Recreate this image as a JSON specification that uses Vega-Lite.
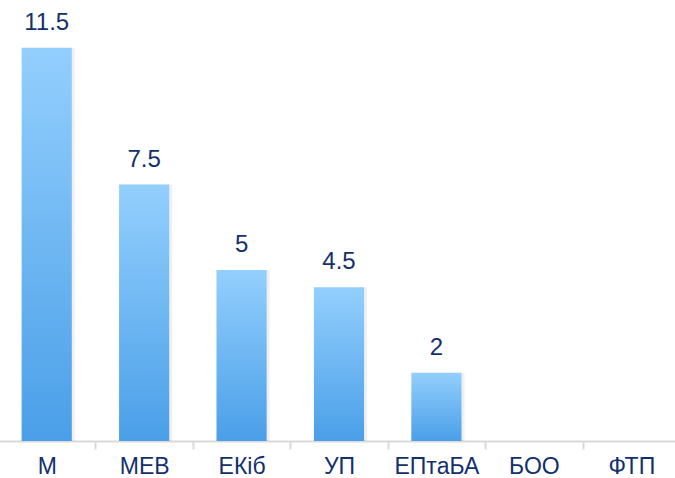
{
  "$schema": "https://vega.github.io/schema/vega-lite/v6.json",
  "width": 682,
  "height": 441,
  "autosize": {"type": "none"},
  "padding": {"left": -2, "top": 0, "right": 0, "bottom": 37},
  "background": "white",
  "config": {"view": {"stroke": null}, "font": "Liberation Sans"},
  "data": {"values": [
    {"cat": "М", "value": 11.5},
    {"cat": "МЕВ", "value": 7.5},
    {"cat": "ЕКіб", "value": 5},
    {"cat": "УП", "value": 4.5},
    {"cat": "ЕПтаБА", "value": 2},
    {"cat": "БОО", "value": 0},
    {"cat": "ФТП", "value": 0}
  ]},
  "encoding": {
    "x": {"field": "cat", "type": "nominal", "sort": null,
      "scale": {"paddingInner": 0, "paddingOuter": 0},
      "axis": {"title": null, "labelAngle": 0, "labelFontSize": 23, "labelColor": "#13306B",
        "labelPadding": 6, "domainColor": "#D9D9D9", "domainWidth": 2, "tickColor": "#D9D9D9",
        "tickWidth": 2, "tickSize": 8, "tickBand": "extent"}},
    "y": {"field": "value", "type": "quantitative", "scale": {"domain": [0, 12.9]}, "axis": null}
  },
  "layer": [
    {"mark": {"type": "bar", "color": "#000000", "opacity": 0.06, "xOffset": 3, "width": {"band": 0.515}, "clip": false}},
    {"mark": {"type": "bar", "width": {"band": 0.515}, "color": {"gradient": "linear", "x1": 0, "y1": 0, "x2": 0, "y2": 1,
      "stops": [{"offset": 0, "color": "#93CFFD"}, {"offset": 1, "color": "#4A9FE8"}]}}},
    {"transform": [{"filter": "datum.value > 0"}],
     "mark": {"type": "text", "dy": -25, "fontSize": 24, "color": "#13306B"},
     "encoding": {"text": {"field": "value", "type": "quantitative"}}}
  ]
}
